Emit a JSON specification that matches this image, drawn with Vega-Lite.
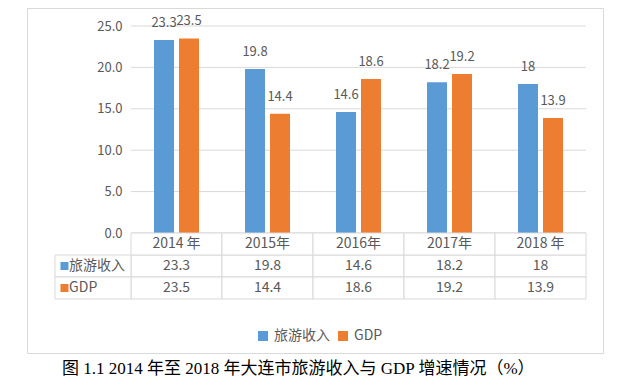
{
  "$schema": "https://vega.github.io/schema/vega-lite/v6.json",
  "width": 576,
  "height": 345,
  "autosize": {"type": "none"},
  "padding": {"left": 27, "top": 8, "right": 23, "bottom": 33},
  "background": "white",
  "title": {
    "text": "图 1.1 2014 年至 2018 年大连市旅游收入与 GDP 增速情况（%）",
    "orient": "bottom",
    "anchor": "start",
    "frame": "group",
    "dx": 35,
    "offset": 8,
    "font": "Liberation Serif, Noto Sans CJK SC",
    "fontSize": 17,
    "fontWeight": "normal",
    "color": "#000000"
  },
  "datasets": {
    "d": [
      {"year": "2014 年", "series": "旅游收入", "value": 23.3, "label": "23.3"},
      {"year": "2014 年", "series": "GDP", "value": 23.5, "label": "23.5"},
      {"year": "2015年", "series": "旅游收入", "value": 19.8, "label": "19.8"},
      {"year": "2015年", "series": "GDP", "value": 14.4, "label": "14.4"},
      {"year": "2016年", "series": "旅游收入", "value": 14.6, "label": "14.6"},
      {"year": "2016年", "series": "GDP", "value": 18.6, "label": "18.6"},
      {"year": "2017年", "series": "旅游收入", "value": 18.2, "label": "18.2"},
      {"year": "2017年", "series": "GDP", "value": 19.2, "label": "19.2"},
      {"year": "2018 年", "series": "旅游收入", "value": 18, "label": "18"},
      {"year": "2018 年", "series": "GDP", "value": 13.9, "label": "13.9"}
    ],
    "grid": [{"v": 0}, {"v": 5}, {"v": 10}, {"v": 15}, {"v": 20}, {"v": 25}]
  },
  "config": {
    "view": {"stroke": "#d9d9d9", "strokeWidth": 1, "fill": "white"},
    "font": "Noto Sans CJK SC",
    "legend": {
      "orient": "none",
      "legendX": 229,
      "legendY": 321,
      "direction": "horizontal",
      "title": null,
      "symbolType": "square",
      "symbolSize": 100,
      "symbolStrokeWidth": 0,
      "labelFontSize": 14,
      "labelColor": "#595959",
      "labelFont": "Noto Sans CJK SC",
      "columnPadding": 6,
      "labelOffset": 4,
      "padding": 0
    }
  },
  "layer": [
    {
      "layer": [
        {
          "data": {"name": "grid"},
          "mark": {"type": "rule", "color": "#d9d9d9", "strokeWidth": 1},
          "encoding": {
            "y": {
              "field": "v",
              "type": "quantitative",
              "scale": {"domain": [0, 25], "range": [225, 18], "nice": false, "zero": true},
              "axis": {
                "orient": "left",
                "offset": -104,
                "domain": false,
                "ticks": false,
                "grid": false,
                "labelPadding": 9,
                "format": ".1f",
                "values": [0, 5, 10, 15, 20, 25],
                "title": null,
                "labelColor": "#595959",
                "labelFontSize": 13,
                "labelFont": "Noto Sans CJK SC"
              }
            },
            "x": {
              "datum": "2014 年",
              "type": "nominal",
              "bandPosition": 0,
              "scale": {"type": "band", "domain": ["2014 年", "2015年", "2016年", "2017年", "2018 年"], "range": [104, 559], "paddingInner": 0, "paddingOuter": 0},
              "axis": null
            },
            "x2": {"datum": "2018 年", "bandPosition": 1}
          }
        },
        {
          "data": {"name": "d"},
          "mark": {"type": "bar"},
          "encoding": {
            "x": {
              "field": "year",
              "type": "nominal",
              "scale": {"type": "band", "domain": ["2014 年", "2015年", "2016年", "2017年", "2018 年"], "range": [104, 559], "paddingInner": 0, "paddingOuter": 0},
              "axis": null
            },
            "xOffset": {
              "field": "series",
              "type": "nominal",
              "scale": {"domain": ["旅游收入", "GDP"], "paddingInner": 0.2, "paddingOuter": 0.92}
            },
            "y": {"field": "value", "type": "quantitative"},
            "color": {
              "field": "series",
              "type": "nominal",
              "scale": {"domain": ["旅游收入", "GDP"], "range": ["#5B9BD5", "#ED7D31"]}
            }
          }
        },
        {
          "data": {"name": "d"},
          "mark": {"type": "text", "dy": -13, "baseline": "alphabetic", "fontSize": 13, "fill": "#595959"},
          "encoding": {
            "x": {"field": "year", "type": "nominal"},
            "xOffset": {"field": "series", "type": "nominal", "scale": {"domain": ["旅游收入", "GDP"], "paddingInner": 0.2, "paddingOuter": 0.92}},
            "y": {"field": "value", "type": "quantitative"},
            "text": {"field": "label"}
          }
        }
      ]
    },
    {
      "layer": [
        {
          "data": {"name": "d"},
          "mark": {"type": "rect", "fill": "white", "stroke": "#d9d9d9", "strokeWidth": 1},
          "encoding": {
            "x": {"field": "year", "type": "nominal"},
            "y": {
              "field": "series",
              "type": "nominal",
              "scale": {"type": "band", "domain": ["h", "旅游收入", "GDP"], "range": [225, 291], "paddingInner": 0, "paddingOuter": 0},
              "axis": null
            }
          }
        },
        {
          "data": {"name": "d"},
          "transform": [{"filter": "datum.series == '旅游收入'"}],
          "mark": {"type": "rect", "fill": "white", "stroke": "#d9d9d9", "strokeWidth": 1},
          "encoding": {
            "x": {"field": "year", "type": "nominal"},
            "y": {"datum": "h", "type": "nominal"}
          }
        },
        {
          "data": {"name": "d"},
          "transform": [{"filter": "datum.year == '2014 年'"}],
          "mark": {"type": "rect", "fill": "white", "stroke": "#d9d9d9", "strokeWidth": 1},
          "encoding": {
            "x": {"datum": "2014 年", "type": "nominal", "bandPosition": -0.835},
            "x2": {"datum": "2014 年", "bandPosition": 0},
            "y": {"field": "series", "type": "nominal"}
          }
        },
        {
          "data": {"name": "d"},
          "transform": [{"filter": "datum.series == '旅游收入'"}],
          "mark": {"type": "text", "fontSize": 14, "fill": "#595959", "baseline": "middle"},
          "encoding": {
            "x": {"field": "year", "type": "nominal"},
            "y": {"datum": "h", "type": "nominal"},
            "text": {"field": "year"}
          }
        },
        {
          "data": {"name": "d"},
          "mark": {"type": "text", "fontSize": 14, "fill": "#595959", "baseline": "middle"},
          "encoding": {
            "x": {"field": "year", "type": "nominal"},
            "y": {"field": "series", "type": "nominal"},
            "text": {"field": "label"}
          }
        },
        {
          "data": {"name": "d"},
          "transform": [{"filter": "datum.year == '2014 年'"}],
          "mark": {"type": "point", "shape": "square", "size": 64, "filled": true, "opacity": 1, "strokeWidth": 0},
          "encoding": {
            "x": {"datum": "2014 年", "type": "nominal", "bandPosition": -0.731},
            "y": {"field": "series", "type": "nominal"},
            "color": {"field": "series", "type": "nominal"}
          }
        },
        {
          "data": {"name": "d"},
          "transform": [{"filter": "datum.year == '2014 年'"}],
          "mark": {"type": "text", "fontSize": 14, "fill": "#595959", "align": "left", "baseline": "middle"},
          "encoding": {
            "x": {"datum": "2014 年", "type": "nominal", "bandPosition": -0.68},
            "y": {"field": "series", "type": "nominal"},
            "text": {"field": "series"}
          }
        }
      ]
    }
  ],
  "resolve": {"scale": {"y": "independent"}, "axis": {"y": "independent"}}
}
